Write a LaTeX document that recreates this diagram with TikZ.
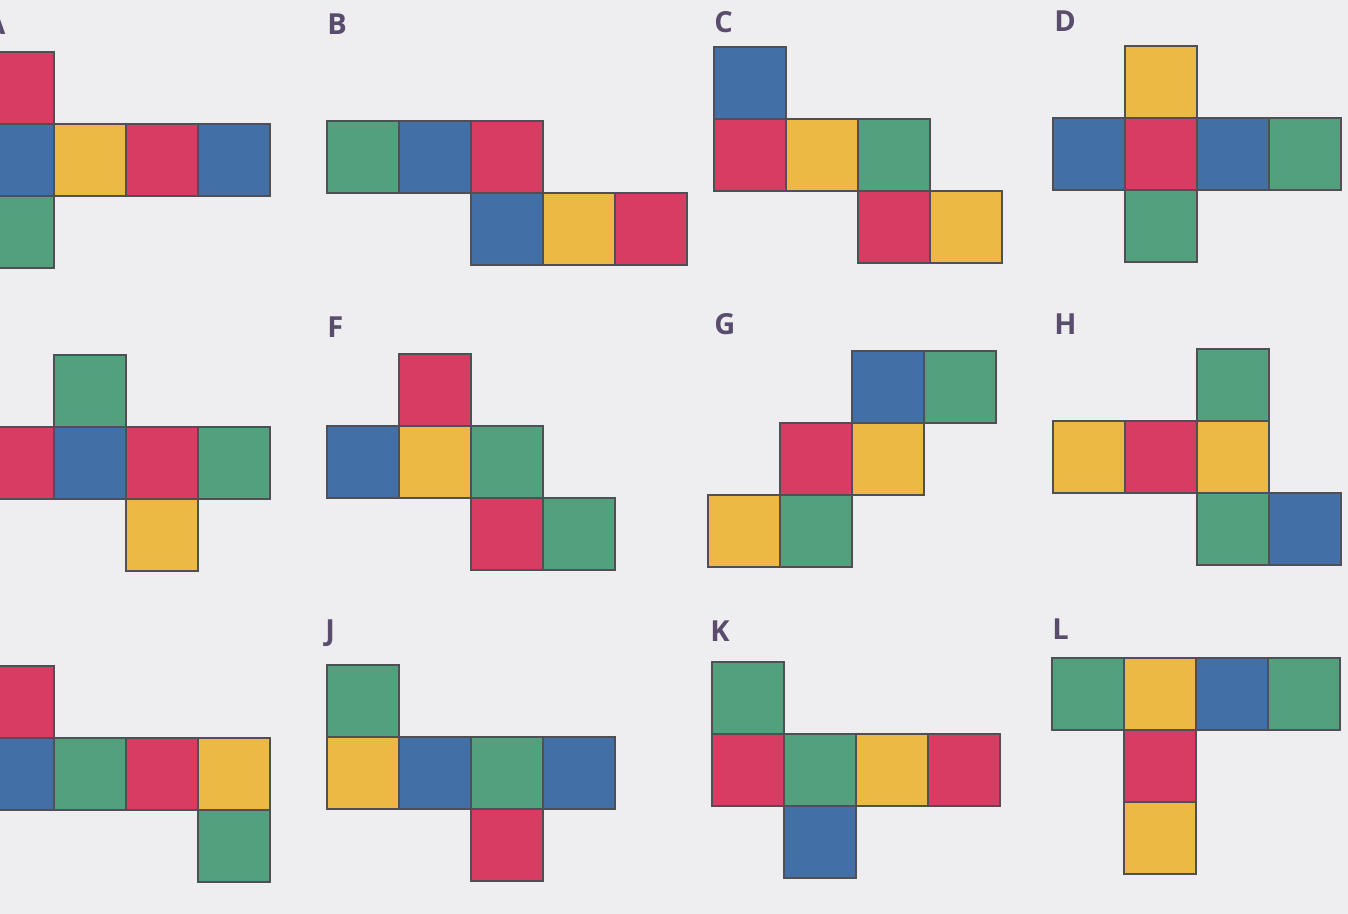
\documentclass[tikz,border=0pt]{standalone}
\usepackage{fontspec}
\setsansfont{Open Sans}
\usepackage{xcolor}
\usepackage{tikz}
\definecolor{paper}{HTML}{EEEEF1}
\definecolor{edge}{HTML}{4F4F55}
\definecolor{inkletter}{HTML}{5A4C6C}
\definecolor{fred}{HTML}{D83C62}
\definecolor{fblue}{HTML}{416FA6}
\definecolor{fyellow}{HTML}{ECBA44}
\definecolor{fgreen}{HTML}{52A07C}
\tikzset{face/.style={draw=edge,line width=0.3mm},
  netlabel/.style={anchor=base west,text=inkletter,inner sep=0pt}}
\newcommand{\drawnet}[3]{%
  \foreach \c/\r/\col in {#3}{\draw[face,fill=\col] (#1+72*\c,#2+72*\r) rectangle ++(72,72);}}

\begin{document}
\begin{tikzpicture}[x=0.2mm,y=-0.2mm,font=\sffamily\bfseries\fontsize{16.5}{19}\selectfont]
  \useasboundingbox (0,0) rectangle (1348,914);
  \fill[paper] (0,0) rectangle (1348,914);
  \clip (0,0) rectangle (1348,914);
  % first row
  \drawnet{-18}{52}{0/0/fred,0/1/fblue,1/1/fyellow,2/1/fred,3/1/fblue,0/2/fgreen}
  \drawnet{327}{121}{0/0/fgreen,1/0/fblue,2/0/fred,2/1/fblue,3/1/fyellow,4/1/fred}
  \drawnet{714}{47}{0/0/fblue,0/1/fred,1/1/fyellow,2/1/fgreen,2/2/fred,3/2/fyellow}
  \drawnet{1053}{46}{1/0/fyellow,0/1/fblue,1/1/fred,2/1/fblue,3/1/fgreen,1/2/fgreen}
  % second row
  \drawnet{-18}{355}{1/0/fgreen,0/1/fred,1/1/fblue,2/1/fred,3/1/fgreen,2/2/fyellow}
  \drawnet{327}{354}{1/0/fred,0/1/fblue,1/1/fyellow,2/1/fgreen,2/2/fred,3/2/fgreen}
  \drawnet{708}{351}{2/0/fblue,3/0/fgreen,1/1/fred,2/1/fyellow,0/2/fyellow,1/2/fgreen}
  \drawnet{1053}{349}{2/0/fgreen,0/1/fyellow,1/1/fred,2/1/fyellow,2/2/fgreen,3/2/fblue}
  % third row
  \drawnet{-18}{666}{0/0/fred,0/1/fblue,1/1/fgreen,2/1/fred,3/1/fyellow,3/2/fgreen}
  \drawnet{327}{665}{0/0/fgreen,0/1/fyellow,1/1/fblue,2/1/fgreen,3/1/fblue,2/2/fred}
  \drawnet{712}{662}{0/0/fgreen,0/1/fred,1/1/fgreen,2/1/fyellow,3/1/fred,1/2/fblue}
  \drawnet{1052}{658}{0/0/fgreen,1/0/fyellow,2/0/fblue,3/0/fgreen,1/1/fred,1/2/fyellow}
  % labels
  \node[netlabel] (labA) at (-15,35) {A};
  \node[netlabel] (labB) at (327,35) {B};
  \node[netlabel] (labC) at (714,33) {C};
  \node[netlabel] (labD) at (1054,32) {D};
  \node[netlabel] (labF) at (327,338) {F};
  \node[netlabel] (labG) at (714,335) {G};
  \node[netlabel] (labH) at (1054,335) {H};
  \node[netlabel] (labJ) at (325,641) {J};
  \node[netlabel] (labK) at (710,642) {K};
  \node[netlabel] (labL) at (1052,640) {L};
\end{tikzpicture}
\end{document}
